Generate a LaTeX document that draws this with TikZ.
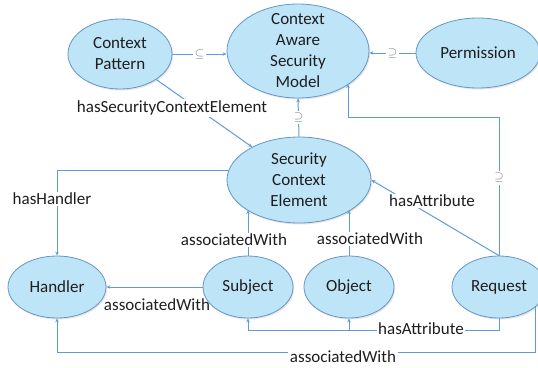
\documentclass[tikz,border=0pt]{standalone}
\usepackage{fontspec}
\setmainfont{Carlito}
\usetikzlibrary{shapes.geometric,arrows.meta,shadows}

\definecolor{nodefill}{RGB}{190,228,247}
\definecolor{nodeline}{RGB}{100,150,200}
\definecolor{linkblue}{RGB}{95,155,215}
\definecolor{txtgray}{RGB}{30,30,30}
\definecolor{symgray}{RGB}{110,110,110}

\tikzset{
  concept/.style={ellipse, draw=nodeline, fill=nodefill, line width=0.8pt, inner sep=1pt,
    align=center, text=txtgray, font=\fontsize{17}{21}\selectfont,
    drop shadow={opacity=0.2, shadow xshift=1.2pt, shadow yshift=-1.5pt}},
  link/.style={draw=linkblue, line width=1pt, -{Stealth[length=4pt,width=3.5pt]}},
  lbl/.style={fill=white, text=txtgray, inner sep=1.5pt, font=\fontsize{17}{21}\selectfont},
  sym/.style={fill=white, text=symgray, inner sep=2pt, font=\fontsize{12}{14}\selectfont}
}

\begin{document}
\begin{tikzpicture}[x=1pt, y=1pt]

\useasboundingbox (0,0) rectangle (538,-367);

% concepts
\node[concept, minimum width=104pt, minimum height=70pt] (cp) at (120,-54) {Context\\Pattern};
\node[concept, minimum width=142pt, minimum height=94pt, inner ysep=-12pt] (casm) at (298,-51) {Context\\Aware\\Security\\Model};
\node[concept, minimum width=124pt, minimum height=70pt] (perm) at (478,-53) {Permission};
\node[concept, minimum width=144pt, minimum height=86pt] (sce) at (299,-180) {Security\\Context\\Element};

\node[concept, minimum width=98pt, minimum height=62pt] (hdl) at (57,-287) {Handler};
\node[concept, minimum width=90pt, minimum height=62pt] (sub) at (248,-287) {Subject};
\node[concept, minimum width=90pt, minimum height=62pt] (obj) at (349,-287) {Object};
\node[concept, minimum width=94pt, minimum height=62pt] (req) at (499,-287) {Request};

\coordinate (k1) at (348,-117);
\coordinate (rb) at (0,-330);
\coordinate (lb) at (0,-352);

% subset relations
\draw[link] (cp.east) -- (cp.east -| casm.west) node[sym, midway] {$\subseteq$};
\draw[link] (perm.west) -- (perm.west -| casm.east) node[sym, midway] {$\supseteq$};
\draw[link] (sce.north) -- (casm.south) node[sym, midway] {$\supseteq$};
\draw[link] (req.north) |- (k1) node[sym, pos=0.28] {$\supseteq$} -- (k1 |- casm.-33);

% properties
\draw[link] (cp) -- (sce);
\draw[link] (sce.172) -| (hdl.north);
\draw[link] (req.north) -- (sce.east);
\draw[link] (sub.north) -- (sub.north |- sce.210);
\draw[link] (obj.north) -- (obj.north |- sce.-30);
\draw[link] (sub.west) -- (hdl.east);
\draw[link] (req.south) |- (sub.south |- rb) -- (sub.south);
\draw[link] (obj.south |- rb) -- (obj.south);
\draw[link] (req.-28) |- (hdl.south |- lb) -- (hdl.south);

% labels
\node[lbl] (lsce) at (172,-108) {hasSecurityContextElement};
\node[lbl] (lhdl) at (52,-199) {hasHandler};
\node[lbl] (lreq) at (432,-201) {hasAttribute};
\node[lbl] (lsub) at (234,-240) {associatedWith};
\node[lbl] (lobj) at (370,-239) {associatedWith};
\node[lbl, fill=none] (lsh) at (157,-305) {associatedWith};
\node[lbl] (lrsub) at (421,-329) {hasAttribute};
\node[lbl] (lrh) at (343,-357) {associatedWith};

\end{tikzpicture}
\end{document}
